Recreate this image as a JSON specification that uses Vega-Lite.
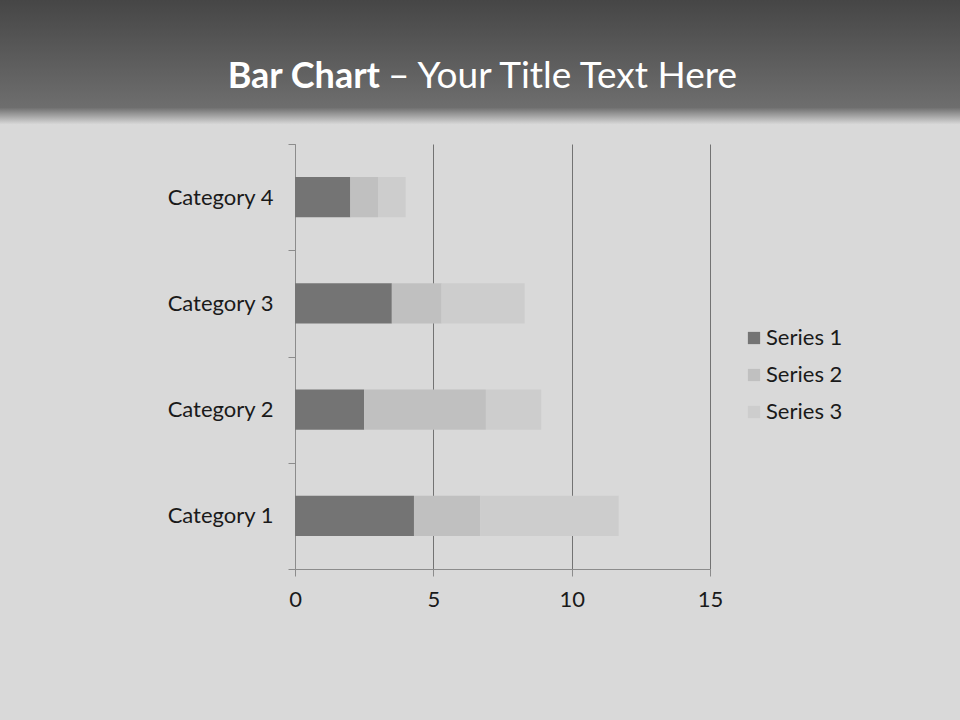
{
  "$schema": "https://vega.github.io/schema/vega-lite/v6.json",
  "background": "#d9d9d9",
  "padding": {"left": 0, "top": 0, "right": 0, "bottom": 120},
  "spacing": 8,
  "config": {"view": {"stroke": null}, "font": "Lato"},
  "vconcat": [
    {
      "width": 960,
      "height": 125,
      "data": {"values": [{"bold": "Bar Chart", "rest": "– Your Title Text Here"}]},
      "layer": [
        {
          "mark": {
            "type": "rect",
            "color": {
              "gradient": "linear", "x1": 0, "y1": 0, "x2": 0, "y2": 1,
              "stops": [
                {"offset": 0, "color": "#464646"},
                {"offset": 0.86, "color": "#6e6e6e"},
                {"offset": 1, "color": "#dcdcdc"}
              ]
            }
          },
          "encoding": {}
        },
        {
          "mark": {"type": "text", "align": "right", "baseline": "alphabetic", "dx": -100, "dy": 25, "fontSize": 36, "fontWeight": "bold", "color": "#ffffff", "font": "Lato"},
          "encoding": {"text": {"field": "bold"}}
        },
        {
          "mark": {"type": "text", "align": "left", "baseline": "alphabetic", "dx": -92, "dy": 25, "fontSize": 37, "fontWeight": "normal", "color": "#ffffff", "font": "Lato"},
          "encoding": {"text": {"field": "rest"}}
        }
      ]
    },
    {
      "spacing": 0,
      "hconcat": [
        {
          "width": 1,
          "height": 425,
          "data": {"values": [{"blank": ""}]},
          "mark": {"type": "rect", "opacity": 0},
          "encoding": {}
        },
        {
          "width": 415,
          "height": 425,
          "data": {
            "values": [
              {"category": "Category 1", "series": "Series 1", "value": 4.3},
              {"category": "Category 1", "series": "Series 2", "value": 2.4},
              {"category": "Category 1", "series": "Series 3", "value": 5},
              {"category": "Category 2", "series": "Series 1", "value": 2.5},
              {"category": "Category 2", "series": "Series 2", "value": 4.4},
              {"category": "Category 2", "series": "Series 3", "value": 2},
              {"category": "Category 3", "series": "Series 1", "value": 3.5},
              {"category": "Category 3", "series": "Series 2", "value": 1.8},
              {"category": "Category 3", "series": "Series 3", "value": 3},
              {"category": "Category 4", "series": "Series 1", "value": 2},
              {"category": "Category 4", "series": "Series 2", "value": 1},
              {"category": "Category 4", "series": "Series 3", "value": 1}
            ]
          },
          "mark": {"type": "bar", "height": {"band": 0.38}},
          "encoding": {
            "y": {
              "field": "category", "type": "nominal", "sort": "descending",
              "scale": {"paddingInner": 0, "paddingOuter": 0},
              "axis": {"title": null, "tickBand": "extent", "minExtent": 294, "labelFontSize": 22, "labelColor": "#1a1a1a", "labelPadding": 15, "tickSize": 7, "tickColor": "#8c8c8c", "domainColor": "#8c8c8c", "grid": false}
            },
            "x": {
              "field": "value", "type": "quantitative", "stack": "zero",
              "scale": {"domain": [0, 15]},
              "axis": {"title": null, "values": [0, 5, 10, 15], "grid": true, "gridColor": "#737373", "tickSize": 7, "tickColor": "#8c8c8c", "domainColor": "#8c8c8c", "labelFontSize": 22, "labelColor": "#1a1a1a", "labelPadding": 13, "labelFlush": false}
            },
            "color": {
              "field": "series", "type": "nominal",
              "scale": {"range": ["#747474", "#c0c0c0", "#cdcdcd"]},
              "legend": {"title": null, "orient": "none", "legendX": 743, "legendY": 327, "symbolType": "square", "symbolSize": 150, "symbolStrokeWidth": 0, "labelFontSize": 22, "labelColor": "#1a1a1a", "rowPadding": 15, "labelOffset": 1}
            },
            "order": {"field": "series"}
          }
        }
      ]
    }
  ]
}
